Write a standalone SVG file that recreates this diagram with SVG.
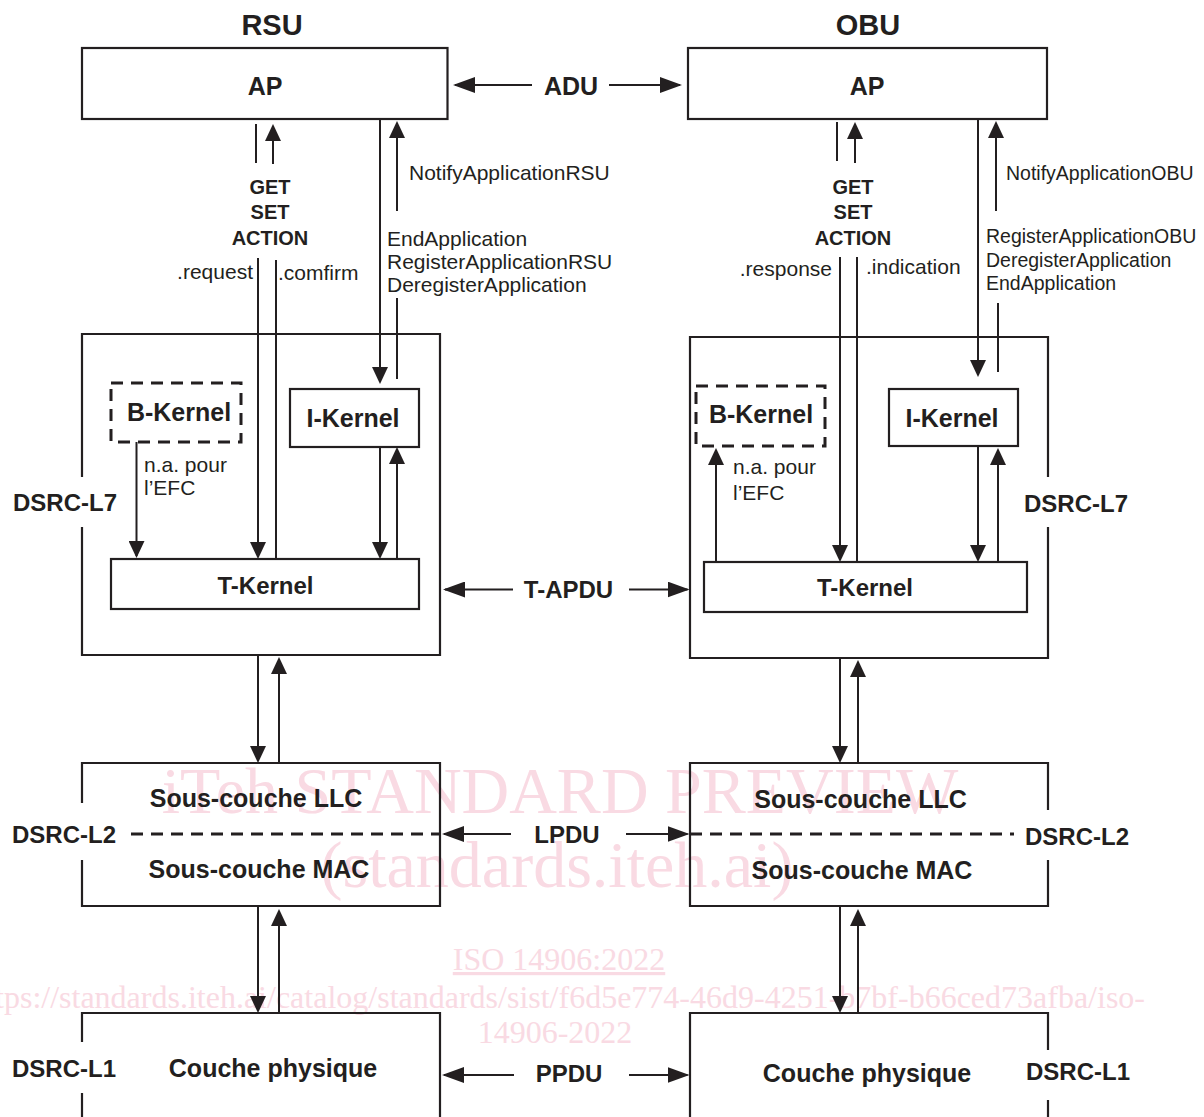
<svg xmlns="http://www.w3.org/2000/svg" width="1204" height="1117" viewBox="0 0 1204 1117">
  <defs>
    <style>
      .bg { fill: #ffffff; }
      .box { fill: none; stroke: #231f20; stroke-width: 2.2; }
      .dash { fill: none; stroke: #231f20; stroke-width: 3; stroke-dasharray: 12 8; }
      .ln { fill: none; stroke: #231f20; stroke-width: 2; }
      .v { marker-end: url(#headV); }
      .h { marker-end: url(#headH); }
      text { font-family: "Liberation Sans", Arial, sans-serif; fill: #231f20; }
      .b { font-weight: bold; }
      .t29 { font-size: 29px; }
      .t25 { font-size: 25px; }
      .t24 { font-size: 24px; }
      .t20 { font-size: 20px; }
      .r21 { font-size: 21px; }
      .r19 { font-size: 19.5px; }
      .mid { text-anchor: middle; }
      .end { text-anchor: end; }
      .wm { font-family: "Liberation Serif", "Times New Roman", serif; fill: #f9dae3; }
    </style>
    <marker id="headV" markerUnits="userSpaceOnUse" viewBox="0 0 17 16" refX="15" refY="8" markerWidth="17" markerHeight="16" orient="auto">
      <path d="M0,0 L17,8 L0,16 z" fill="#231f20"/>
    </marker>
    <marker id="headH" markerUnits="userSpaceOnUse" viewBox="0 0 22 16" refX="20" refY="8" markerWidth="22" markerHeight="16" orient="auto">
      <path d="M0,0 L22,8 L0,16 z" fill="#231f20"/>
    </marker>
  </defs>

  <rect class="bg" x="0" y="0" width="1204" height="1117"/>

  <!-- publisher watermark -->
  <g id="watermark">
    <text class="wm mid" x="560" y="813" font-size="66">iTeh STANDARD PREVIEW</text>
    <text class="wm mid" x="557" y="887" font-size="66">(standards.iteh.ai)</text>
    <text class="wm mid" x="559" y="970" font-size="32" text-decoration="underline">ISO 14906:2022</text>
    <text class="wm end" x="1145" y="1008" font-size="32">https://standards.iteh.ai/catalog/standards/sist/f6d5e774-46d9-4251-b7bf-b66ced73afba/iso-</text>
    <text class="wm mid" x="555" y="1043" font-size="32">14906-2022</text>
  </g>

  <!-- column headings -->
  <g id="headings">
    <text class="b t29 mid" x="272" y="35">RSU</text>
    <text class="b t29 mid" x="868" y="35">OBU</text>
  </g>

  <!-- RSU stack -->
  <g id="rsu-ap">
    <rect class="box" x="82" y="48" width="365.5" height="71"/>
    <text class="b t25 mid" x="265" y="95">AP</text>
  </g>
  <g id="rsu-l7">
    <path class="box" d="M82,477 V334 H440 V655 H82 V527"/>
    <text class="b t24" x="13" y="511">DSRC-L7</text>
  </g>
  <g id="rsu-bkernel">
    <rect class="dash" x="111" y="383" width="130" height="59"/>
    <text class="b t25 mid" x="179" y="421">B-Kernel</text>
  </g>
  <g id="rsu-ikernel">
    <rect class="box" x="290" y="389" width="129" height="58"/>
    <text class="b t25 mid" x="353" y="427">I-Kernel</text>
  </g>
  <g id="rsu-tkernel">
    <rect class="box" x="111" y="559" width="308" height="50"/>
    <text class="b t24 mid" x="265.5" y="594">T-Kernel</text>
  </g>
  <g id="rsu-l2">
    <path class="box" d="M82,803 V763 H440 V906 H82 V860"/>
    <path class="dash" d="M131,834 H440"/>
    <text class="b t25 mid" x="256" y="807">Sous-couche LLC</text>
    <text class="b t25 mid" x="259" y="878">Sous-couche MAC</text>
    <text class="b t24" x="12" y="843">DSRC-L2</text>
  </g>
  <g id="rsu-l1">
    <path class="box" d="M82,1042 V1013 H440 V1117"/>
    <path class="box" d="M82,1093 V1117"/>
    <text class="b t25 mid" x="273" y="1077">Couche physique</text>
    <text class="b t24" x="12" y="1077">DSRC-L1</text>
  </g>

  <!-- OBU stack -->
  <g id="obu-ap">
    <rect class="box" x="688" y="48" width="359" height="71"/>
    <text class="b t25 mid" x="867" y="95">AP</text>
  </g>
  <g id="obu-l7">
    <path class="box" d="M1048,477 V337 H690 V658 H1048 V527"/>
    <text class="b t24" x="1024" y="512">DSRC-L7</text>
  </g>
  <g id="obu-bkernel">
    <rect class="dash" x="696" y="386" width="129" height="60"/>
    <text class="b t25 mid" x="761" y="423">B-Kernel</text>
  </g>
  <g id="obu-ikernel">
    <rect class="box" x="889" y="389" width="129" height="57"/>
    <text class="b t25 mid" x="952" y="427">I-Kernel</text>
  </g>
  <g id="obu-tkernel">
    <rect class="box" x="704" y="562" width="323" height="50"/>
    <text class="b t24 mid" x="865" y="596">T-Kernel</text>
  </g>
  <g id="obu-l2">
    <path class="box" d="M1048,810 V763 H690 V906 H1048 V860"/>
    <path class="dash" d="M690,834 H1014"/>
    <text class="b t25 mid" x="860.5" y="808">Sous-couche LLC</text>
    <text class="b t25 mid" x="862" y="879">Sous-couche MAC</text>
    <text class="b t24" x="1025" y="845">DSRC-L2</text>
  </g>
  <g id="obu-l1">
    <path class="box" d="M1048,1050 V1013 H690 V1117"/>
    <path class="box" d="M1048,1100 V1117"/>
    <text class="b t25 mid" x="867" y="1082">Couche physique</text>
    <text class="b t24" x="1026" y="1080">DSRC-L1</text>
  </g>

  <!-- peer-to-peer data units -->
  <g id="peer-labels">
    <text class="b t25 mid" x="571" y="95">ADU</text>
    <text class="b t24 mid" x="568.5" y="598">T-APDU</text>
    <text class="b t24 mid" x="567" y="843">LPDU</text>
    <text class="b t24 mid" x="569" y="1082">PPDU</text>
  </g>

  <!-- service primitive labels -->
  <g id="primitive-labels">
    <text class="b t20 mid" x="270" y="194">GET</text>
    <text class="b t20 mid" x="270" y="219">SET</text>
    <text class="b t20 mid" x="270" y="245">ACTION</text>
    <text class="r21 end" x="253" y="279">.request</text>
    <text class="r21" x="278" y="280">.comfirm</text>
    <text class="r21" x="409" y="180">NotifyApplicationRSU</text>
    <text class="r21" x="387" y="246">EndApplication</text>
    <text class="r21" x="387" y="269">RegisterApplicationRSU</text>
    <text class="r21" x="387" y="292">DeregisterApplication</text>
    <text class="r21" x="144" y="472">n.a. pour</text>
    <text class="r21" x="144" y="495">l’EFC</text>

    <text class="b t20 mid" x="853" y="194">GET</text>
    <text class="b t20 mid" x="853" y="219">SET</text>
    <text class="b t20 mid" x="853" y="245">ACTION</text>
    <text class="r21 end" x="832" y="276">.response</text>
    <text class="r21" x="866" y="274">.indication</text>
    <text class="r19" x="1006" y="180">NotifyApplicationOBU</text>
    <text class="r19" x="986" y="243">RegisterApplicationOBU</text>
    <text class="r19" x="986" y="267">DeregisterApplication</text>
    <text class="r19" x="986" y="290">EndApplication</text>
    <text class="r21" x="733" y="474">n.a. pour</text>
    <text class="r21" x="733" y="500">l’EFC</text>
  </g>

  <!-- connectors -->
  <g id="connectors">
    <!-- ADU -->
    <line class="ln h" x1="532" y1="85" x2="455" y2="85"/>
    <line class="ln h" x1="609" y1="85" x2="680" y2="85"/>
    <!-- T-APDU -->
    <line class="ln h" x1="513" y1="589.5" x2="445" y2="589.5"/>
    <line class="ln h" x1="629" y1="589.5" x2="687.5" y2="589.5"/>
    <!-- LPDU -->
    <line class="ln h" x1="511" y1="834" x2="444" y2="834"/>
    <line class="ln h" x1="626" y1="834" x2="687.5" y2="834"/>
    <!-- PPDU -->
    <line class="ln h" x1="514" y1="1075" x2="444" y2="1075"/>
    <line class="ln h" x1="629" y1="1075" x2="687.5" y2="1075"/>

    <!-- RSU: AP <-> T-Kernel primitives -->
    <line class="ln" x1="256" y1="124" x2="256" y2="163"/>
    <line class="ln v" x1="273" y1="164" x2="273" y2="126"/>
    <line class="ln v" x1="258" y1="258" x2="258" y2="557"/>
    <line class="ln" x1="276" y1="260" x2="276" y2="559"/>
    <!-- RSU: AP <-> I-Kernel -->
    <line class="ln v" x1="380" y1="119" x2="380" y2="382"/>
    <line class="ln v" x1="397" y1="211" x2="397" y2="123"/>
    <line class="ln" x1="397" y1="298" x2="397" y2="379"/>
    <!-- RSU: I-Kernel <-> T-Kernel -->
    <line class="ln v" x1="380" y1="447" x2="380" y2="557"/>
    <line class="ln v" x1="397" y1="559" x2="397" y2="449"/>
    <!-- RSU: B-Kernel -> T-Kernel -->
    <line class="ln v" x1="136.5" y1="442" x2="136.5" y2="556"/>
    <!-- RSU: L7 <-> L2 <-> L1 -->
    <line class="ln v" x1="258" y1="655" x2="258" y2="761"/>
    <line class="ln v" x1="279" y1="763" x2="279" y2="659"/>
    <line class="ln v" x1="258" y1="906" x2="258" y2="1011"/>
    <line class="ln v" x1="279" y1="1013" x2="279" y2="911"/>

    <!-- OBU: AP <-> T-Kernel primitives -->
    <line class="ln" x1="837" y1="122" x2="837" y2="161"/>
    <line class="ln v" x1="855" y1="163" x2="855" y2="124"/>
    <line class="ln v" x1="840" y1="257" x2="840" y2="560"/>
    <line class="ln" x1="857" y1="257" x2="857" y2="562"/>
    <!-- OBU: AP <-> I-Kernel -->
    <line class="ln v" x1="978" y1="119" x2="978" y2="375"/>
    <line class="ln v" x1="996" y1="211" x2="996" y2="123"/>
    <line class="ln" x1="998" y1="303" x2="998" y2="372"/>
    <!-- OBU: I-Kernel <-> T-Kernel -->
    <line class="ln v" x1="978" y1="446" x2="978" y2="560"/>
    <line class="ln v" x1="998" y1="562" x2="998" y2="450"/>
    <!-- OBU: T-Kernel -> B-Kernel -->
    <line class="ln v" x1="716" y1="562" x2="716" y2="450"/>
    <!-- OBU: L7 <-> L2 <-> L1 -->
    <line class="ln v" x1="840" y1="658" x2="840" y2="761"/>
    <line class="ln v" x1="858" y1="763" x2="858" y2="662"/>
    <line class="ln v" x1="840" y1="906" x2="840" y2="1011"/>
    <line class="ln v" x1="858" y1="1013" x2="858" y2="911"/>
  </g>
</svg>
